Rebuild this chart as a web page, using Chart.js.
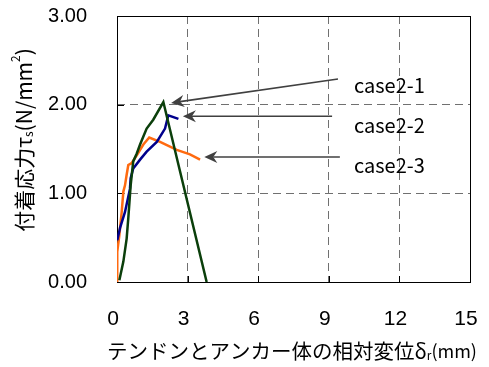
<!DOCTYPE html>
<html>
<head>
<meta charset="utf-8">
<script src="https://cdn.jsdelivr.net/npm/chart.js@4/dist/chart.umd.min.js"></script>
<style>
  html,body{margin:0;padding:0;background:#fff;}
  #wrap{width:489px;height:367px;position:relative;}
</style>
</head>
<body>
<div id="wrap"><canvas id="c"></canvas></div>
<script>
(function(){
  // ---- data ----
  const case21X = [0.10, 0.27, 0.41, 0.48, 0.58, 0.69, 0.84, 0.98, 1.12, 1.26, 1.54, 1.97, 3.81];
  const case21Y = [0.02, 0.23, 0.49, 0.72, 1.09, 1.36, 1.45, 1.55, 1.64, 1.73, 1.83, 2.03, 0.00];

  const case22X = [0.01, 0.13, 0.34, 0.55, 0.58, 0.69, 0.98, 1.26, 1.69, 1.83, 2.04, 2.18, 2.61];
  const case22Y = [0.47, 0.61, 0.79, 1.05, 1.17, 1.28, 1.38, 1.47, 1.58, 1.64, 1.73, 1.88, 1.84];

  const case23X = [0.00, 0.01, 0.10, 0.20, 0.27, 0.34, 0.41, 0.48, 0.62, 0.84, 1.12, 1.37, 1.83, 2.54, 3.10, 3.53];
  const case23Y = [0.00, 0.34, 0.53, 0.79, 1.02, 1.09, 1.21, 1.32, 1.34, 1.43, 1.55, 1.63, 1.58, 1.49, 1.44, 1.38];

  const seriesNames = ['case2-1', 'case2-2', 'case2-3'];
  const xTicks = [0, 3, 6, 9, 12, 15];
  const yTicks = [0, 1, 2, 3];

  // arrows: tail (label side) -> tip (curve peak), in data units
  const arrowTail = [[9.39, 2.29], [9.14, 1.87], [9.47, 1.41]];
  const arrowTip  = [[2.30, 2.02], [2.80, 1.87], [3.71, 1.41]];
  const labelPos  = [[10.07, 2.22], [10.07, 1.77], [10.07, 1.32]];

  const colors = ['#0b3f0b', '#00008c', '#ff6a10'];

  function pts(xs, ys){ return xs.map((x,i)=>({x:x, y:ys[i]})); }

  // draw a run of text pieces (with sub/superscripts) starting at x
  function runWidth(ctx, parts){
    let w = 0;
    parts.forEach(p=>{ ctx.font = p.size + 'px ' + p.font; w += ctx.measureText(p.t).width; });
    return w;
  }
  function drawRun(ctx, parts, x, y){
    parts.forEach(p=>{
      ctx.font = p.size + 'px ' + p.font;
      ctx.fillText(p.t, x, y + (p.dy || 0));
      x += ctx.measureText(p.t).width;
    });
  }

  const JP = '"Noto Sans CJK JP", sans-serif';
  const yTitle = [
    {t:'付着応力', size:21, font:JP},
    {t:'τ', size:21, font:JP},
    {t:'s', size:12, font:JP, dy:4},
    {t:'(N/mm', size:21, font:JP},
    {t:'2', size:12, font:JP, dy:-9},
    {t:')', size:21, font:JP}
  ];
  const xTitle = [
    {t:'テンドンとアンカー体の相対変位', size:20.5, font:JP},
    {t:'δ', size:20.5, font:JP},
    {t:'r', size:12, font:JP, dy:4},
    {t:'(mm)', size:18, font:JP}
  ];

  const decor = {
    id:'decor',
    beforeDatasetsDraw(chart){
      const {ctx, chartArea:a, scales:{x, y}} = chart;
      ctx.save();
      ctx.strokeStyle = '#000';
      ctx.lineWidth = 1;
      // inward tick marks
      ctx.beginPath();
      yTicks.forEach(v=>{
        const py = Math.round(y.getPixelForValue(v)) + 0.5;
        ctx.moveTo(a.left, py); ctx.lineTo(a.left + 7, py);
      });
      xTicks.forEach(v=>{
        const px = Math.round(x.getPixelForValue(v)) + 0.5;
        ctx.moveTo(px, a.bottom); ctx.lineTo(px, a.bottom - 6);
      });
      ctx.stroke();
      ctx.strokeRect(Math.round(a.left) + 0.5, Math.round(a.top) + 0.5,
                     Math.round(a.right - a.left), Math.round(a.bottom - a.top));
      ctx.restore();
    },
    afterDraw(chart){
      const {ctx, scales:{x, y}} = chart;
      ctx.save();
      // arrows
      ctx.strokeStyle = '#404040';
      ctx.fillStyle = '#404040';
      ctx.lineWidth = 1.6;
      arrowTail.forEach((t,i)=>{
        const x0 = x.getPixelForValue(t[0]), y0 = y.getPixelForValue(t[1]);
        const x1 = x.getPixelForValue(arrowTip[i][0]), y1 = y.getPixelForValue(arrowTip[i][1]);
        const ang = Math.atan2(y1 - y0, x1 - x0);
        const len = 13, half = 6, notch = 9;
        ctx.beginPath();
        ctx.moveTo(x0, y0);
        ctx.lineTo(x1 - Math.cos(ang)*notch, y1 - Math.sin(ang)*notch);
        ctx.stroke();
        ctx.save();
        ctx.translate(x1, y1);
        ctx.rotate(ang);
        ctx.beginPath();
        ctx.moveTo(0, 0);
        ctx.lineTo(-len, -half);
        ctx.lineTo(-notch, 0);
        ctx.lineTo(-len, half);
        ctx.closePath();
        ctx.fill();
        ctx.restore();
      });
      // series labels
      ctx.fillStyle = '#000';
      ctx.textAlign = 'left';
      ctx.textBaseline = 'middle';
      ctx.font = '20px ' + JP;
      seriesNames.forEach((n,i)=>{
        ctx.fillText(n, x.getPixelForValue(labelPos[i][0]), y.getPixelForValue(labelPos[i][1]));
      });
      // axis titles
      ctx.textAlign = 'left';
      ctx.textBaseline = 'middle';
      const xw = runWidth(ctx, xTitle);
      drawRun(ctx, xTitle, 292 - xw/2, 351);
      ctx.translate(24, 140);
      ctx.rotate(-Math.PI/2);
      const yw = runWidth(ctx, yTitle);
      drawRun(ctx, yTitle, -yw/2, 0);
      ctx.restore();
    }
  };

  const tickFont = {family:'"Liberation Sans", Arial, sans-serif'};

  new Chart(document.getElementById('c'), {
    type:'scatter',
    data:{
      datasets:[case21X, case22X, case23X].map((xs,i)=>({
        label: seriesNames[i],
        data: pts(xs, [case21Y, case22Y, case23Y][i]),
        showLine:true,
        borderColor: colors[i],
        backgroundColor: colors[i],
        borderWidth: 2.5,
        pointRadius: 0,
        tension: 0
      }))
    },
    options:{
      responsive:true,
      maintainAspectRatio:false,
      animation:false,
      layout:{padding:{left:0, right:19, top:16, bottom:0}},
      plugins:{legend:{display:false}, tooltip:{enabled:false}},
      scales:{
        x:{
          type:'linear', min:0, max:15,
          afterFit(s){ s.height = 85; },
          afterBuildTicks(s){ s.ticks = xTicks.map(v=>({value:v})); },
          grid:{color:'#707070', lineWidth:1, drawTicks:true, tickLength:25, tickColor:'rgba(0,0,0,0)'},
          border:{display:false, dash:[8,5]},
          ticks:{color:'#000', font:Object.assign({size:21}, tickFont), padding:0, labelOffset:-4, maxRotation:0}
        },
        y:{
          type:'linear', min:0, max:3,
          afterFit(s){ s.width = 117; },
          afterBuildTicks(s){ s.ticks = yTicks.map(v=>({value:v})); },
          grid:{color:'#707070', lineWidth:1, drawTicks:true, tickLength:30, tickColor:'rgba(0,0,0,0)'},
          border:{display:false, dash:[8,5]},
          ticks:{color:'#000', font:Object.assign({size:20}, tickFont), padding:0,
                 callback:v=>v.toFixed(2)}
        }
      }
    },
    plugins:[decor]
  });
})();
</script>
</body>
</html>
